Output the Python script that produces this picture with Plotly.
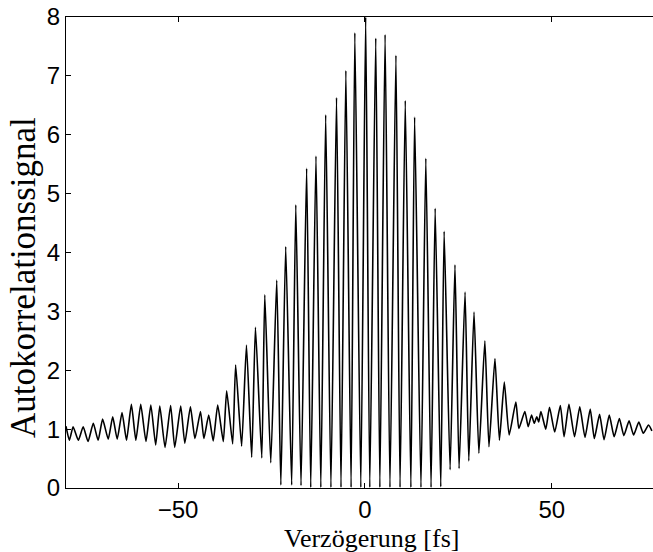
import plotly.graph_objects as go

# Alternating fringe extrema (delay in fs, signal)
delay_fs = [
    -80.0, -79.1, -78.1, -76.7, -75.4, -74.1, -72.7, -71.4, -70.2, -68.7,
    -67.5, -66.3, -65.0, -63.8, -62.5, -61.3, -60.0, -58.6, -57.3, -56.0,
    -54.9, -53.5, -52.0, -50.9, -49.3, -48.2, -46.7, -45.5, -44.0, -43.1,
    -41.8, -40.6, -39.4, -37.9, -37.0, -35.4, -34.6, -33.0, -31.7, -30.3,
    -29.3, -27.6, -26.8, -25.2, -23.6, -22.5, -21.2, -19.6, -18.5, -17.1,
    -15.6, -14.5, -13.1, -11.8, -10.5, -9.1, -7.6, -6.4, -5.1, -3.7,
    -2.7, -1.1, 0.2, 1.3, 2.9, 4.0, 5.4, 6.7, 8.3, 9.4,
    10.8, 12.3, 13.3, 15.0, 16.3, 17.7, 18.8, 20.3, 21.2, 22.8,
    24.1, 25.2, 26.8, 27.8, 29.2, 30.5, 32.1, 33.2, 34.8, 36.0,
    37.3, 38.6, 40.4, 41.2, 42.8, 43.7, 44.6, 45.3, 46.0, 46.5,
    47.1, 48.4, 49.4, 50.8, 52.3, 53.3, 54.6, 56.1, 57.5, 58.9,
    60.3, 61.4, 62.8, 64.0, 65.4, 66.7, 68.1, 69.3, 70.7, 71.9,
    73.3, 74.5, 75.9, 76.8,
]
signal = [
    1.05, 0.81, 1.04, 0.81, 1.04, 0.79, 1.10, 0.81, 1.17, 0.83,
    1.21, 0.83, 1.28, 0.81, 1.42, 0.81, 1.42, 0.79, 1.41, 0.73,
    1.39, 0.69, 1.40, 0.69, 1.39, 0.76, 1.38, 0.84, 1.30, 0.84,
    1.24, 0.80, 1.41, 0.79, 1.65, 0.75, 2.09, 0.71, 2.43, 0.52,
    2.73, 0.51, 3.28, 0.43, 3.53, 0.05, 4.10, 0.05, 4.81, 0.04,
    5.43, 0.01, 5.64, 0.01, 6.34, 0.01, 6.63, 0.01, 7.09, 0.01,
    7.73, 0.01, 8.00, 0.01, 7.64, 0.01, 7.70, 0.01, 7.35, 0.01,
    6.58, 0.01, 6.30, 0.01, 5.60, 0.01, 4.75, 0.02, 4.36, 0.31,
    3.79, 0.33, 3.33, 0.46, 2.99, 0.59, 2.50, 0.70, 2.20, 0.81,
    1.80, 0.90, 1.46, 1.01, 1.30, 1.04, 1.24, 1.10, 1.21, 1.12,
    1.30, 1.00, 1.37, 0.95, 1.40, 0.87, 1.42, 0.87, 1.38, 0.86,
    1.34, 0.84, 1.25, 0.82, 1.24, 0.87, 1.18, 0.89, 1.14, 0.90,
    1.12, 0.93, 1.07, 0.97,
]

x_ticks = [-50, 0, 50]
x_tick_labels = ["\u221250", "0", "50"]
y_ticks = [0, 1, 2, 3, 4, 5, 6, 7, 8]
x_title = "Verzögerung [fs]"
y_title = "Autokorrelationssignal"

fig = go.Figure()
fig.add_trace(go.Scatter(
    x=delay_fs, y=signal, mode="lines",
    line=dict(color="black", width=1.6, shape="spline", smoothing=0.5),
    showlegend=False, hoverinfo="skip",
))

tick_font = dict(family="Liberation Sans, Arial, sans-serif", size=24, color="black")

fig.update_layout(
    width=653, height=552,
    margin=dict(l=66, r=0, t=17, b=64),
    paper_bgcolor="white", plot_bgcolor="white",
    xaxis=dict(
        range=[-80, 77.1], tickvals=x_ticks, ticktext=x_tick_labels,
        ticks="inside", ticklen=5, tickcolor="black", tickwidth=1,
        showline=True, linecolor="black", linewidth=1.2, mirror="ticks",
        showgrid=False, zeroline=False, tickfont=tick_font, automargin=False,
    ),
    yaxis=dict(
        range=[0, 8], tickvals=y_ticks,
        ticks="inside", ticklen=5, tickcolor="black", tickwidth=1,
        showline=True, linecolor="black", linewidth=1.2, mirror=False,
        showgrid=False, zeroline=False, tickfont=tick_font, automargin=False,
    ),
    annotations=[
        dict(text=x_title, xref="paper", yref="paper", x=0.521, y=0,
             xanchor="center", yanchor="middle", yshift=-50,
             showarrow=False,
             font=dict(family="Liberation Serif, Times New Roman, serif", size=26, color="black")),
        dict(text=y_title, xref="paper", yref="paper", x=0, y=0.446,
             xanchor="center", yanchor="middle", xshift=-42, textangle=-90,
             showarrow=False,
             font=dict(family="Liberation Serif, Times New Roman, serif", size=35, color="black")),
    ],
)

fig.write_html(
    "out.html",
    config={"displayModeBar": False},
    post_script="document.body.style.margin='0';document.body.style.overflow='hidden';",
)
